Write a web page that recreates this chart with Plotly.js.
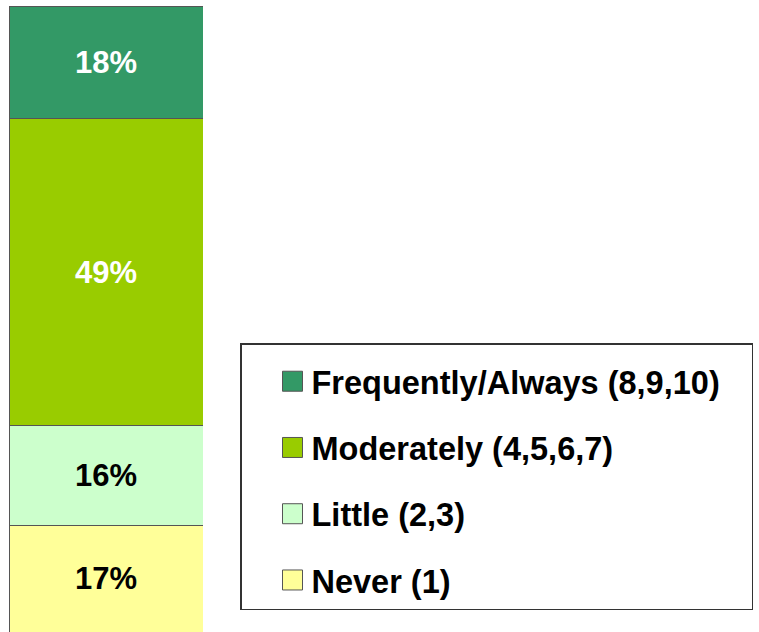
<!DOCTYPE html>
<html>
<head>
<meta charset="utf-8">
<script src="https://cdn.plot.ly/plotly-3.0.1.min.js"></script>
<style>
  body { margin: 0; background: #fff; }
  #grafico { width: 759px; height: 632px; }
</style>
</head>
<body>
<div id="grafico"></div>
<script>
// datos (de abajo hacia arriba)
const categorias = ['Never (1)', 'Little (2,3)', 'Moderately (4,5,6,7)', 'Frequently/Always (8,9,10)'];
const porcentajes = [17, 16, 49, 18];
const grupo = ['Total'];

const colores = ['#FFFF99', '#CCFFCC', '#99CC00', '#339966'];
const coloresTexto = ['#000000', '#000000', '#ffffff', '#ffffff'];

const trazos = categorias.map((nombre, i) => ({
  x: grupo,
  y: [porcentajes[i]],
  type: 'bar',
  name: nombre,
  legendgroup: 'g' + i,
  legendrank: categorias.length - i,
  text: [porcentajes[i] + '%'],
  textposition: 'inside',
  insidetextanchor: 'middle',
  textangle: 0,
  textfont: { family: 'Liberation Sans, Arial, sans-serif', size: 31, color: coloresTexto[i], weight: 'bold' },
  marker: { color: colores[i], line: { color: '#555555', width: 1 } },
  hoverinfo: 'none'
}));

const layout = {
  width: 759,
  height: 632,
  barmode: 'stack',
  bargap: 0,
  margin: { l: 9, r: 556, t: 6, b: 0, pad: 0, autoexpand: false },
  paper_bgcolor: '#ffffff',
  plot_bgcolor: '#ffffff',
  xaxis: { visible: false, range: [-0.5, 0.5], fixedrange: true },
  yaxis: { visible: false, range: [0, 100], fixedrange: true },
  showlegend: true,
  legend: {
    xref: 'container', yref: 'container',
    x: 240 / 759, y: 1 - 343 / 632,
    xanchor: 'left', yanchor: 'top',
    traceorder: 'grouped',
    tracegroupgap: 21,
    itemwidth: 60,
    // titulo vacio: solo da el margen superior y el ancho del recuadro
    title: { text: '\u00a0'.repeat(260), font: { size: 7 } },
    bordercolor: '#333333',
    borderwidth: 1.5,
    bgcolor: '#ffffff',
    font: { family: 'Liberation Sans, Arial, sans-serif', size: 32.5, color: '#000000', weight: 'bold' }
  }
};

Plotly.newPlot('grafico', trazos, layout, { displayModeBar: false, staticPlot: true }).then(gd => {
  // cuadros de la leyenda mas grandes, como en el original
  gd.querySelectorAll('.legendpoints').forEach(g => g.setAttribute('transform', 'translate(16,0)'));
  gd.querySelectorAll('.legendpoints path').forEach(p => p.setAttribute('d', 'M10,10H-10V-10H10Z'));
});
</script>
</body>
</html>
